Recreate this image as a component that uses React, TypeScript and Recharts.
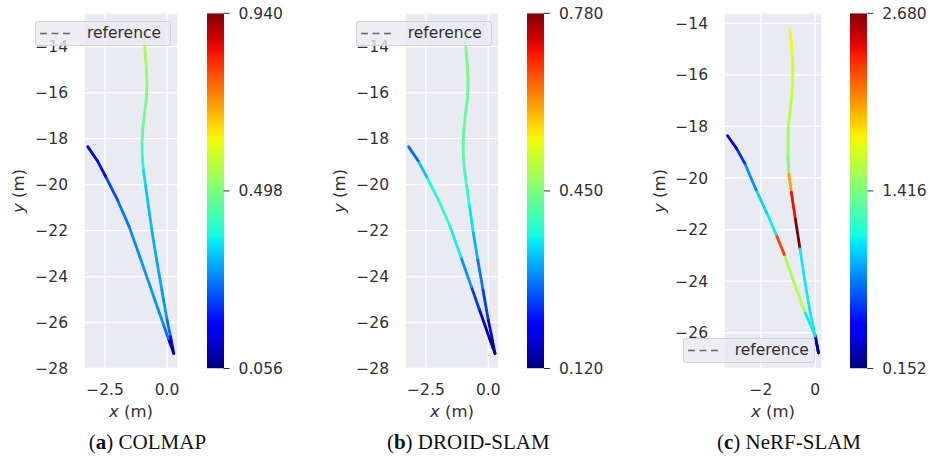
import React from "react";
import { ScatterChart, Scatter, XAxis, YAxis, CartesianGrid, BarChart, Bar } from "recharts";

// aligned estimates (COLMAP and DROID-SLAM share the same shape), metres
const alignedX = [-0.92, -0.88, -0.83, -0.81, -0.84, -0.91, -0.98, -1.01, -1.0, -0.95, -0.86, -0.75, -0.6, -0.42, -0.21, 0.0, 0.14, 0.27, 0.05, -0.14, -0.37, -0.68, -1.1, -1.53, -2.0, -2.47, -2.82, -3.2];
const alignedY = [-13.64, -14.3, -15.0, -15.6, -16.3, -16.9, -17.6, -18.2, -18.8, -19.4, -20.1, -20.96, -22.1, -23.28, -24.6, -25.89, -26.62, -27.35, -26.7, -26.1, -25.4, -24.44, -23.14, -21.83, -20.67, -19.66, -18.95, -18.35];

// per-point error (colours the segment that starts at that point)
const colmapErr = [0.55, 0.54, 0.52, 0.5, 0.49, 0.48, 0.46, 0.43, 0.4, 0.36, 0.34, 0.33, 0.32, 0.31, 0.3, 0.26, 0.14, 0.1, 0.26, 0.29, 0.3, 0.3, 0.29, 0.27, 0.23, 0.18, 0.14, 0.13];
const droidErr = [0.45, 0.44, 0.44, 0.43, 0.43, 0.43, 0.42, 0.42, 0.41, 0.4, 0.38, 0.35, 0.32, 0.28, 0.24, 0.19, 0.15, 0.13, 0.15, 0.19, 0.24, 0.3, 0.36, 0.39, 0.37, 0.33, 0.27, 0.27];

const nerfX = [-0.93, -0.86, -0.82, -0.86, -0.99, -1.01, -0.97, -0.88, -0.73, -0.56, -0.37, -0.16, 0.0, 0.12, 0.0, -0.4, -0.78, -1.14, -1.44, -1.78, -2.18, -2.6, -2.9, -3.23];
const nerfY = [-14.23, -15.0, -15.68, -16.84, -18.0, -19.16, -19.85, -20.55, -21.6, -22.75, -24.07, -25.36, -26.13, -26.78, -26.13, -25.16, -24.05, -22.97, -22.19, -21.36, -20.45, -19.42, -18.85, -18.36];
const nerfErr = [1.78, 1.72, 1.66, 1.6, 1.52, 1.42, 2.02, 2.42, 2.68, 1.06, 1.06, 1.06, 0.22, 0.22, 1.06, 1.58, 1.55, 2.28, 1.06, 1.0, 0.83, 0.58, 0.33, 0.3];

// colorbar ticks: min, mid, max
const colmapTicks = [0.056, 0.498, 0.94];
const droidTicks = [0.12, 0.45, 0.78];
const nerfTicks = [0.152, 1.416, 2.68];

const yTicksAB = [-28, -26, -24, -22, -20, -18, -16, -14];
const yTicksC = [-26, -24, -22, -20, -18, -16, -14];
const xTicksAB = [-2.5, 0];
const xTicksC = [-2, 0];

const TEXT = "#303030";
const FONT = "'DejaVu Sans', sans-serif";
const PLOT_TOP = 13.3;
const PLOT_BOTTOM = 368.5;
const AXIS_W = 84;
const RIGHT_PAD = 24;

// matplotlib "jet"
const JR = [[0, 0], [0.35, 0], [0.66, 1], [0.89, 1], [1, 0.5]];
const JG = [[0, 0], [0.125, 0], [0.375, 1], [0.64, 1], [0.91, 0], [1, 0]];
const JB = [[0, 0.5], [0.11, 1], [0.34, 1], [0.65, 0], [1, 0]];

function interp(pts: number[][], t: number) {
  for (let i = 1; i < pts.length; i++) {
    if (t <= pts[i][0]) {
      const [x0, y0] = pts[i - 1];
      const [x1, y1] = pts[i];
      return y0 + ((y1 - y0) * (t - x0)) / (x1 - x0);
    }
  }
  return pts[pts.length - 1][1];
}

function jet(t: number) {
  const c = Math.max(0, Math.min(1, t));
  const h = (v: number) => Math.round(v * 255).toString(16).padStart(2, "0");
  return `#${h(interp(JR, c))}${h(interp(JG, c))}${h(interp(JB, c))}`;
}

const fmt = (digits: number) => (v: number) =>
  (v < 0 ? "\u2212" : "") + Math.abs(v).toFixed(digits);

const noDot = () => <g />;

interface PanelSpec {
  id: string;
  letter: string;
  name: string;
  xs: number[];
  ys: number[];
  err: number[];
  cbTicks: number[];
  xDomain: [number, number];
  xTicks: number[];
  xDigits: number;
  yDomain: [number, number];
  yTicks: number[];
  plotLeft: number;
  plotW: number;
  cbLeft: number;
  cbW: number;
  legend: { left: number; top: number; width: number };
  yTitleX: number;
  captionX: number;
}

const panels: PanelSpec[] = [
  {
    id: "a", letter: "a", name: "COLMAP", xs: alignedX, ys: alignedY, err: colmapErr, cbTicks: colmapTicks,
    xDomain: [-3.35, 0.44], xTicks: xTicksAB, xDigits: 1, yDomain: [-28, -12.55], yTicks: yTicksAB,
    plotLeft: 84, plotW: 94, cbLeft: 206.7, cbW: 16.6,
    legend: { left: 35, top: 20.7, width: 136 }, yTitleX: 18.5, captionX: 147.5,
  },
  {
    id: "b", letter: "b", name: "DROID-SLAM", xs: alignedX, ys: alignedY, err: droidErr, cbTicks: droidTicks,
    xDomain: [-3.34, 0.43], xTicks: xTicksAB, xDigits: 1, yDomain: [-28, -12.55], yTicks: yTicksAB,
    plotLeft: 405, plotW: 94, cbLeft: 527.3, cbW: 17,
    legend: { left: 355.7, top: 20.7, width: 136 }, yTitleX: 340, captionX: 468.3,
  },
  {
    id: "c", letter: "c", name: "NeRF-SLAM", xs: nerfX, ys: nerfY, err: nerfErr, cbTicks: nerfTicks,
    xDomain: [-3.36, 0.25], xTicks: xTicksC, xDigits: 0, yDomain: [-27.39, -13.61], yTicks: yTicksC,
    plotLeft: 724, plotW: 98, cbLeft: 850, cbW: 17.3,
    legend: { left: 682.7, top: 337.7, width: 132.5 }, yTitleX: 660, captionX: 789,
  },
];

const tickStyle = { fill: TEXT, fontSize: 15.5, fontFamily: FONT };

function RefLegend({ left, top, width }: { left: number; top: number; width: number }) {
  return (
    <div
      style={{
        position: "absolute", left, top, width, height: 25.5, boxSizing: "border-box",
        background: "rgba(234,234,242,0.8)", border: "1px solid rgba(204,204,204,0.8)",
        borderRadius: 3, fontFamily: FONT, fontSize: 15.5, color: TEXT,
      }}
    >
      <svg style={{ position: "absolute", left: 4, top: 10.5 }} width={34} height={3}>
        <line x1={0} y1={1.5} x2={34} y2={1.5} stroke="#666" strokeWidth={1.5} strokeDasharray="7 4.5" />
      </svg>
      <span style={{ position: "absolute", left: 51, top: 3, lineHeight: "17px" }}>reference</span>
    </div>
  );
}

function Panel({ p }: { p: PanelSpec }) {
  const lo = p.cbTicks[0];
  const hi = p.cbTicks[p.cbTicks.length - 1];
  const points = p.xs.map((x, i) => ({ x, y: p.ys[i] }));
  const segments = points.slice(0, -1).map((pt, i) => ({
    data: [pt, points[i + 1]],
    color: jet((p.err[i] - lo) / (hi - lo)),
  }));
  const stops = Array.from({ length: 41 }, (_, i) => i / 40);
  const plotMidY = (PLOT_TOP + PLOT_BOTTOM) / 2;

  return (
    <>
      <div style={{ position: "absolute", left: p.plotLeft - AXIS_W, top: 0 }}>
        <ScatterChart
          width={AXIS_W + p.plotW + RIGHT_PAD}
          height={PLOT_BOTTOM + 40}
          margin={{ top: PLOT_TOP, right: RIGHT_PAD, bottom: 0, left: 0 }}
        >
          <CartesianGrid fill="#EAEAF2" stroke="#ffffff" strokeWidth={1.3} />
          <XAxis
            type="number"
            dataKey="x"
            domain={p.xDomain}
            ticks={p.xTicks}
            interval={0}
            allowDataOverflow
            height={40}
            axisLine={false}
            tickLine={false}
            tickSize={0}
            tickMargin={15}
            tick={tickStyle}
            tickFormatter={fmt(p.xDigits)}
          />
          <YAxis
            type="number"
            dataKey="y"
            domain={p.yDomain}
            ticks={p.yTicks}
            interval={0}
            allowDataOverflow
            width={AXIS_W}
            axisLine={false}
            tickLine={false}
            tickSize={0}
            tickMargin={16}
            tick={tickStyle}
            tickFormatter={fmt(0)}
          />
          <Scatter
            data={points}
            shape={noDot}
            line={{ stroke: "#666", strokeWidth: 1.5, strokeDasharray: "5.5 2.4" }}
            isAnimationActive={false}
          />
          {segments.map((s, i) => (
            <Scatter
              key={i}
              data={s.data}
              fill={s.color}
              shape={noDot}
              line={{ stroke: s.color, strokeWidth: 2.8, strokeLinecap: "round" }}
              isAnimationActive={false}
            />
          ))}
        </ScatterChart>
      </div>

      <div style={{ position: "absolute", left: p.cbLeft, top: 0 }}>
        <BarChart
          width={p.cbW + 70}
          height={PLOT_BOTTOM + 20}
          margin={{ top: PLOT_TOP, right: 0, bottom: 20, left: 0 }}
          data={[{ k: "cb", v: [lo, hi] }]}
          barCategoryGap={0}
        >
          <defs>
            <linearGradient id={`jet-${p.id}`} x1="0" y1="1" x2="0" y2="0">
              {stops.map((t) => (
                <stop key={t} offset={`${t * 100}%`} stopColor={jet(t)} />
              ))}
            </linearGradient>
          </defs>
          <XAxis dataKey="k" hide />
          <YAxis
            orientation="right"
            width={70}
            domain={[lo, hi]}
            ticks={p.cbTicks}
            interval={0}
            allowDataOverflow
            axisLine={false}
            tickSize={6}
            tickLine={{ stroke: TEXT, strokeWidth: 1 }}
            tickMargin={9}
            tick={tickStyle}
            tickFormatter={(v: number) => v.toFixed(3)}
          />
          <Bar dataKey="v" fill={`url(#jet-${p.id})`} isAnimationActive={false} />
        </BarChart>
      </div>

      <RefLegend {...p.legend} />

      <div
        style={{
          position: "absolute", left: p.plotLeft + p.plotW / 2, top: 401.5, transform: "translateX(-50%)",
          fontFamily: FONT, fontSize: 16.5, color: TEXT, lineHeight: "20px", whiteSpace: "nowrap",
        }}
      >
        <i>x</i> (m)
      </div>
      <div
        style={{
          position: "absolute", left: p.yTitleX, top: plotMidY, transform: "translate(-50%, -50%) rotate(-90deg)",
          fontFamily: FONT, fontSize: 16.5, color: TEXT, lineHeight: "20px", whiteSpace: "nowrap",
        }}
      >
        <i>y</i> (m)
      </div>
      <div
        style={{
          position: "absolute", left: p.captionX, top: 430, transform: "translateX(-50%)",
          fontFamily: "'Liberation Serif', serif", fontSize: 21, color: "#111", lineHeight: "24px", whiteSpace: "nowrap",
        }}
      >
        (<b>{p.letter}</b>) {p.name}
      </div>
    </>
  );
}

export default function App() {
  return (
    <div style={{ position: "absolute", left: 0, top: 0, width: 930, height: 459, background: "#fff", overflow: "hidden" }}>
      {panels.map((p) => (
        <Panel key={p.id} p={p} />
      ))}
    </div>
  );
}
